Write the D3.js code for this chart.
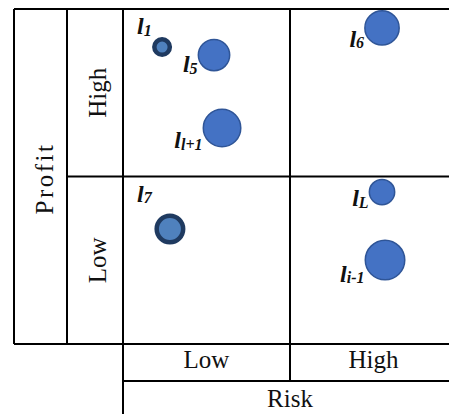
<html lang="en">
<head>
  <meta charset="UTF-8"/>
  <title>Risk / profit matrix</title>
  <script src="https://d3js.org/d3.v7.min.js"></script>
  <style>
    body { margin: 0; background: #fff; }
    svg { display: block; }
    .grid line { stroke: #000; stroke-width: 2; }
    .axis-text { font-family: 'Liberation Serif', 'Times New Roman', serif; font-size: 25px; fill: #111; }
    .lbl { font-family: 'Liberation Serif', 'Times New Roman', serif; font-weight: bold; font-style: italic; fill: #111; }
  </style>
</head>
<body>
  <svg width="449" height="414"></svg>

  <script>

  // categories
  const riskLevels = ['Low', 'High'];
  const profitLevels = ['Low', 'High'];

  // items (risk / profit on a 0..2 scale, 0-1 = Low, 1-2 = High)
  const names   = ['1', '5', 'l+1', '6', '7', 'L', 'i-1'];
  const risk    = [0.234, 0.545, 0.593, 1.551, 0.281, 1.551, 1.569];
  const profit  = [1.773, 1.725, 1.290, 1.887, 0.687, 0.907, 0.501];
  const weight  = [10, 27, 38, 32, 24, 18, 42];
  const marked  = ['1', '7'];

  const svg = d3.select('svg');

  const left = 14, mid = 67;
  const rowH = 37;

  const x = d3.scaleLinear().domain([0, 2]).range([123, 457]);
  const y = d3.scaleLinear().domain([0, 2]).range([344, 9]);
  const r = d3.scaleSqrt().domain([0, d3.max(weight)]).range([0, 20.5]);

  const xb = d3.scaleBand().domain(riskLevels).range(x.range());
  const yb = d3.scaleBand().domain(profitLevels).range(y.range());

  // table lines
  const grid = svg.append('g').attr('class', 'grid');
  const hlines = [
    [left, x(2), y(2)],
    [mid, x(2), y(1)],
    [left, x(2), y(0)],
    [x(0), x(2), y(0) + rowH]
  ];
  const vlines = [
    [left, y(2), y(0)],
    [mid, y(2), y(0)],
    [x(0), y(2), 414],
    [x(1), y(2), y(0) + rowH]
  ];
  grid.selectAll('.h').data(hlines).enter().append('line')
    .attr('x1', d => d[0]).attr('x2', d => d[1])
    .attr('y1', d => d[2]).attr('y2', d => d[2]);
  grid.selectAll('.v').data(vlines).enter().append('line')
    .attr('x1', d => d[0]).attr('x2', d => d[0])
    .attr('y1', d => d[1]).attr('y2', d => d[2]);

  // risk labels
  svg.selectAll('.rl').data(riskLevels).enter().append('text')
    .attr('class', 'axis-text')
    .attr('x', d => xb(d) + xb.bandwidth() / 2)
    .attr('y', y(0) + 24)
    .attr('text-anchor', 'middle')
    .text(d => d);

  svg.append('text')
    .attr('class', 'axis-text')
    .attr('x', (x(0) + x(2)) / 2)
    .attr('y', y(0) + rowH + 26)
    .attr('text-anchor', 'middle')
    .text('Risk');

  // profit labels
  svg.selectAll('.pl').data(profitLevels).enter().append('text')
    .attr('class', 'axis-text')
    .attr('transform', d => `translate(106, ${yb(d) + yb.bandwidth() / 2}) rotate(-90)`)
    .attr('text-anchor', 'middle')
    .text(d => d);

  svg.append('text')
    .attr('class', 'axis-text')
    .attr('transform', `translate(53, ${(y(0) + y(2)) / 2 + 2}) rotate(-90)`)
    .attr('text-anchor', 'middle')
    .style('letter-spacing', '2.5px')
    .text('Profit');

  // bubbles
  const items = names.map((n, i) => ({
    name: n, risk: risk[i], profit: profit[i], w: weight[i], marked: marked.includes(n)
  }));

  svg.selectAll('.bubble').data(items).enter().append('circle')
    .attr('class', 'bubble')
    .attr('cx', d => x(d.risk))
    .attr('cy', d => y(d.profit))
    .attr('r', d => d.marked ? r(d.w) - 2.25 : r(d.w) - 0.75)
    .attr('fill', d => d.marked ? '#4f81bd' : '#4472c4')
    .attr('stroke', d => d.marked ? '#1f3a60' : '#2f5597')
    .attr('stroke-width', d => d.marked ? 4.5 : 1.5);

  // item labels
  const labels = svg.selectAll('.lbl').data(items).enter().append('text')
    .attr('class', 'lbl')
    .attr('text-anchor', d => d.marked ? 'start' : 'end')
    .attr('x', d => d.marked ? x(Math.floor(d.risk)) + 14 : x(d.risk) - r(d.w))
    .attr('y', d => d.marked ? y(Math.floor(d.profit) + 1) + 25 : y(d.profit) + r(d.w) + 1);

  labels.append('tspan')
    .style('font-size', '24px')
    .text('l');
  labels.append('tspan')
    .style('font-size', '16px')
    .attr('dy', 1.5)
    .text(d => d.name);

  </script>
</body>
</html>
